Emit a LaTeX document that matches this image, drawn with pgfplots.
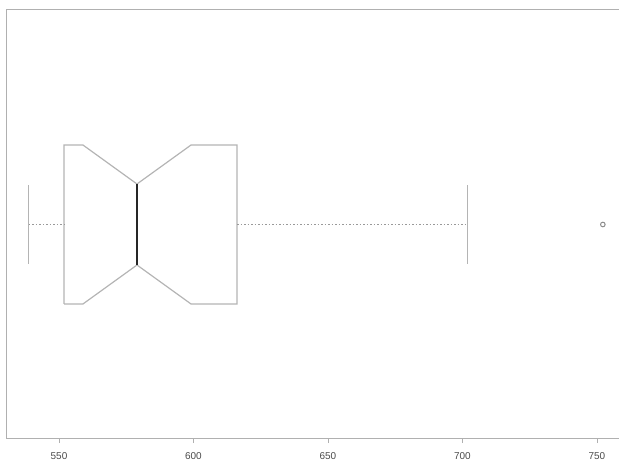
\documentclass[border=0pt]{standalone}
\usepackage{pgfplots}
\pgfplotsset{compat=1.18}
\usepackage{fontspec}
\setmainfont{Liberation Sans}
\definecolor{boxgray}{HTML}{B4B4B4}
\definecolor{framegray}{HTML}{B0B0B0}
\definecolor{txtgray}{HTML}{4A4A4A}
\begin{document}
\begin{tikzpicture}
\useasboundingbox (0,0) rectangle (619bp,462bp);
\begin{axis}[
  at={(6bp,24bp)}, anchor=south west,
  scale only axis,
  width=624bp, height=428bp,
  xmin=530.3, xmax=762.3,
  ymin=0, ymax=428,
  xtick={550,600,650,700,750},
  xtick pos=bottom,
  ytick=\empty,
  xtick align=outside,
  major tick length=5bp,
  tick style={framegray, line width=0.8bp},
  axis line style={framegray, line width=1bp},
  xticklabel style={font=\fontsize{10}{12}\selectfont, text=txtgray, yshift=-6bp},
  /pgf/number format/assume math mode=true,
  clip=false,
]
% notched box outline
\addplot[boxgray, line width=1.2bp, mark=none] coordinates {
  (551.9,134) (551.9,293) (558.9,293) (579,254) (599.1,293) (616.2,293)
  (616.2,134) (599.1,134) (579,173) (558.9,134) (551.9,134)
};
% median
\addplot[black!85, line width=2bp, mark=none] coordinates {(579,173) (579,254)};
% whiskers
\addplot[gray!80, line width=1bp, dash pattern=on 1.5bp off 2bp, mark=none] coordinates {(538.8,213.5) (551.9,213.5)};
\addplot[gray!80, line width=1bp, dash pattern=on 1.5bp off 2bp, mark=none] coordinates {(616.2,213.5) (702,213.5)};
% caps
\addplot[boxgray, line width=1.2bp, mark=none] coordinates {(538.8,174) (538.8,253)};
\addplot[boxgray, line width=1.2bp, mark=none] coordinates {(702,174) (702,253)};
% outlier
\addplot[only marks, mark=o, mark size=2.3bp, gray!90, mark options={line width=1bp}] coordinates {(752.2,213.5)};
\end{axis}
\end{tikzpicture}
\end{document}
